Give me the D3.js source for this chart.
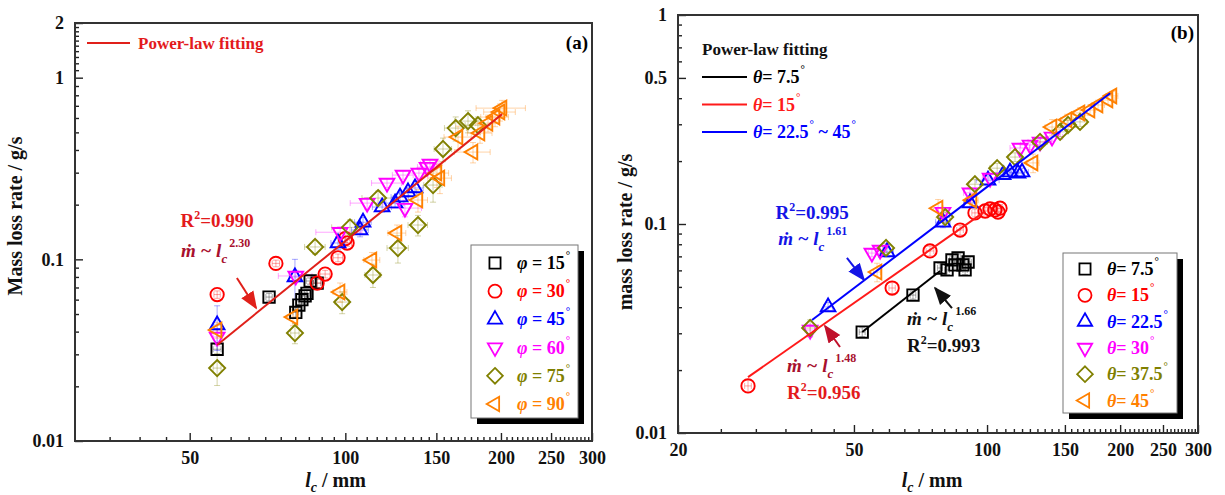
<!DOCTYPE html>
<html>
<head>
<meta charset="utf-8">
<script src="https://cdn.jsdelivr.net/npm/d3@7"></script>
<style>
  body { margin: 0; background: #fff; }
  svg { font-family: "Times New Roman", "Liberation Serif", serif; font-weight: bold; }
</style>
</head>
<body>
<svg id="chart" width="1225" height="495"></svg>
<script>
// each point: [lc (mm), mass loss rate (g/s), x error, y error]
// panel (a), inclination phi
const phi15 = [[56.5,0.032,1,0.002],[71.2,0.062,1,0.003],[80.2,0.051,1,0.003],[81.3,0.056,1,0.003],[82.4,0.060,1,0.003],[83.6,0.063,1,0.003],[84.3,0.065,1,0.003],[85.5,0.076,1.5,0.003],[88.2,0.074,1.5,0.004]];
const phi30 = [[56.5,0.064,0.8,0.003],[73.4,0.095,1.2,0.004],[88.2,0.074,1.5,0.004],[91.4,0.083,2,0.004],[96.8,0.102,2,0.005],[100.0,0.130,2,0.006],[100.8,0.123,2,0.005]];
const phi45 = [[56.5,0.0435,1,0.012],[79.9,0.080,2,0.02],[96.8,0.123,3,0.01],[106.8,0.145,4,0.012],[108.2,0.160,4,0.01],[117.8,0.194,5,0.012],[124.8,0.204,5,0.012],[127.6,0.220,5,0.012],[132.2,0.235,5,0.012],[136.4,0.247,5,0.012]];
const phi60 = [[56.5,0.0374,1,0.004],[80.2,0.081,6,0.006],[97.7,0.141,10,0.01],[110.2,0.204,8,0.015],[120.4,0.263,8,0.015],[130.4,0.1915,10,0.02],[129.3,0.291,6,0.015],[138.8,0.2985,6,0.02],[143.9,0.322,6,0.02],[145.8,0.335,6,0.02]];
const phi75 = [[56.5,0.0252,1,0.005],[79.9,0.0393,1.5,0.005],[87.4,0.117,4,0.01],[98.6,0.0582,3,0.008],[102.1,0.150,8,0.015],[113.1,0.082,4,0.012],[115.7,0.2175,8,0.02],[126.4,0.1154,6,0.02],[138.2,0.1545,6,0.02],[147.8,0.2564,6,0.05],[154.5,0.405,6,0.06],[163.5,0.528,8,0.08],[172.7,0.577,10,0.08],[180.5,0.548,10,0.06]];
const phi90 = [[56.5,0.0408,1,0.004],[79.2,0.0481,2,0.005],[97.7,0.0661,3,0.008],[112.6,0.0991,4,0.01],[125.9,0.1395,5,0.015],[138.2,0.212,6,0.03],[150.4,0.2985,8,0.05],[152.4,0.28,8,0.05],[165.2,0.471,10,0.07],[176.6,0.3895,14,0.05],[182.2,0.4955,10,0.06],[188.8,0.562,10,0.06],[194.8,0.607,12,0.07],[199.2,0.647,14,0.07],[201,0.68,22,0.07]];
const phiLabels = ["15", "30", "45", "60", "75", "90"];

// panel (b), inclination theta
const theta7_5 = [[52.2,0.0304,0.8,0.0015],[68.0,0.0457,1,0.002],[78.3,0.0616,1,0.003],[81.2,0.0603,1,0.003],[83.3,0.0673,1,0.003],[84.6,0.0637,1,0.003],[86.0,0.0688,1,0.003],[88.2,0.0637,1,0.003],[89.2,0.0603,1,0.003],[90.6,0.0658,1.5,0.003]];
const theta15 = [[28.8,0.0168,0.5,0.0012],[61.0,0.0494,1,0.003],[74.3,0.0743,1.5,0.004],[86.9,0.0936,1.5,0.005],[93.9,0.113,1.5,0.005],[99.0,0.1154,1.5,0.005],[101.6,0.118,1.5,0.005],[104.2,0.1167,1.5,0.005],[105.9,0.1141,1.5,0.005],[107.0,0.119,1.5,0.005]];
const theta22_5 = [[43.7,0.0401,1,0.002],[59.4,0.0735,2,0.004],[79.5,0.102,3,0.006],[91.5,0.126,3,0.006],[100.5,0.162,6,0.008],[108.7,0.172,4,0.008],[112.7,0.177,4,0.008],[117.5,0.175,4,0.008],[120.0,0.177,4,0.008]];
const theta30 = [[39.8,0.0311,1,0.002],[54.9,0.0726,1,0.003],[57.3,0.0751,1,0.003],[79.5,0.114,2,0.006],[91.5,0.141,3,0.008],[101.6,0.166,4,0.008],[118.7,0.231,6,0.012],[125.1,0.239,6,0.012],[131.8,0.247,8,0.012],[140.3,0.261,8,0.012]];
const theta37_5 = [[39.8,0.0318,1,0.003],[59.1,0.0768,1,0.004],[80.4,0.108,2,0.006],[93.9,0.155,3,0.008],[105.4,0.185,4,0.01],[115.7,0.209,4,0.01],[131.8,0.247,5,0.012],[146.3,0.276,6,0.014],[152.5,0.298,6,0.015],[162.3,0.308,6,0.015]];
const theta45 = [[56.4,0.0589,1,0.006],[77.5,0.119,2,0.012],[92.5,0.130,3,0.01],[127.1,0.196,4,0.02],[140.3,0.291,5,0.025],[151.7,0.315,5,0.02],[162.3,0.340,5,0.02],[171.0,0.351,5,0.02],[178.3,0.371,6,0.02],[187.8,0.392,6,0.02],[191.7,0.410,6,0.02]];
const thetaLabels = ["7.5", "15", "22.5", "30", "37.5", "45"];

// power-law fits, end points [lc, rate]
const fitA = [[56.5,0.0338],[201,0.63]];
const fitB7_5 = [[52.2,0.0304],[78.3,0.0596]];
const fitB15 = [[28.8,0.0185],[99,0.115]];
const fitB22_5 = [[40.2,0.0347],[189.8,0.422]];

const xTicksA = [50, 100, 150, 200, 250, 300];
const yTicksA = [0.01, 0.1, 1, 2];
const xTicksB = [20, 50, 100, 150, 200, 250, 300];
const yTicksB = [0.01, 0.1, 0.5, 1];

const colors = ["#000000", "#ff0000", "#0000ff", "#ff00ff", "#808000", "#ff8000"];
const shapes = [
    { type: d3.symbolSquare, size: 130, rot: 0 },
    { type: d3.symbolCircle, size: 140, rot: 0 },
    { type: d3.symbolTriangle2, size: 155, rot: 0 },
    { type: d3.symbolTriangle2, size: 155, rot: 180 },
    { type: d3.symbolDiamond2, size: 165, rot: 0 },
    { type: d3.symbolTriangle2, size: 155, rot: -90 }
];

class LogPanel {
    constructor(svg, o) {
        this.o = o;
        this.g = svg.append("g");
        this.x = d3.scaleLog().domain(o.xDomain).range([o.left, o.right]);
        this.y = d3.scaleLog().domain(o.yDomain).range([o.bottom, o.top]);
    }

    styleAxis(sel) {
        sel.select(".domain").remove();
        sel.selectAll("line").attr("stroke", "#222").attr("stroke-width", 1.4);
        sel.selectAll("text")
            .attr("font-family", "'Times New Roman', 'Liberation Serif', serif")
            .attr("font-size", 18).attr("font-weight", "bold").attr("fill", "#111");
    }

    drawAxes(xMinor, yMinor) {
        const o = this.o;
        // minor ticks first, then majors with labels
        this.g.append("g").attr("transform", `translate(0,${o.bottom})`)
            .call(d3.axisBottom(this.x).tickValues(xMinor).tickSize(-4).tickFormat(""))
            .call(s => this.styleAxis(s));
        this.g.append("g").attr("transform", `translate(${o.left},0)`)
            .call(d3.axisLeft(this.y).tickValues(yMinor).tickSize(-4).tickFormat(""))
            .call(s => this.styleAxis(s));
        this.g.append("g").attr("transform", `translate(0,${o.bottom})`)
            .call(d3.axisBottom(this.x).tickValues(o.xTicks).tickSize(-8).tickPadding(10).tickFormat(d => d))
            .call(s => this.styleAxis(s));
        this.g.append("g").attr("transform", `translate(${o.left},0)`)
            .call(d3.axisLeft(this.y).tickValues(o.yTicks).tickSize(-8).tickPadding(11).tickFormat(d => d))
            .call(s => this.styleAxis(s));

        this.g.append("rect")
            .attr("x", o.left).attr("y", o.top)
            .attr("width", o.right - o.left).attr("height", o.bottom - o.top)
            .attr("fill", "none").attr("stroke", "#333").attr("stroke-width", 2);

        this.g.append("text").attr("x", o.right - 4).attr("y", o.top + o.tagDy)
            .attr("text-anchor", "end").attr("font-size", 19).text(o.tag);

        const xt = this.g.append("text").attr("x", (o.left + o.right) / 2 + o.xTitleDx).attr("y", 487)
            .attr("text-anchor", "middle").attr("font-size", 20).attr("fill", "#111");
        xt.append("tspan").attr("font-style", "italic").text("l");
        xt.append("tspan").attr("font-style", "italic").attr("font-size", 14).attr("dy", 5).text("c");
        xt.append("tspan").attr("dy", -5).text(" / mm");

        this.g.append("text")
            .attr("transform", `translate(${o.yTitleX},${o.yTitleY}) rotate(-90)`)
            .attr("text-anchor", "middle").attr("font-size", 20).attr("fill", "#111")
            .text(o.yTitle);
    }

    drawSeries(list) {
        const x = this.x, y = this.y, cap = 3;
        list.forEach((data, i) => {
            const c = colors[i];
            const eb = this.g.append("g").attr("stroke", c).attr("stroke-opacity", 0.35).attr("stroke-width", 1);
            data.forEach(d => {
                const px = x(d[0]), py = y(d[1]);
                const y0 = y(d[1] - d[3]), y1 = y(d[1] + d[3]);
                const x0 = x(d[0] - d[2]), x1 = x(d[0] + d[2]);
                eb.append("line").attr("x1", px).attr("x2", px).attr("y1", y0).attr("y2", y1);
                eb.append("line").attr("x1", px - cap).attr("x2", px + cap).attr("y1", y0).attr("y2", y0);
                eb.append("line").attr("x1", px - cap).attr("x2", px + cap).attr("y1", y1).attr("y2", y1);
                eb.append("line").attr("x1", x0).attr("x2", x1).attr("y1", py).attr("y2", py);
                eb.append("line").attr("x1", x0).attr("x2", x0).attr("y1", py - cap).attr("y2", py + cap);
                eb.append("line").attr("x1", x1).attr("x2", x1).attr("y1", py - cap).attr("y2", py + cap);
            });
        });
        list.forEach((data, i) => {
            const s = shapes[i];
            this.g.append("g").selectAll("path")
                .data(data)
                .enter().append("path")
                    .attr("d", d3.symbol().type(s.type).size(s.size))
                    .attr("transform", d => `translate(${x(d[0])},${y(d[1])}) rotate(${s.rot})`)
                    .attr("fill", "none").attr("stroke", colors[i]).attr("stroke-width", 1.9);
        });
    }

    drawFits(fits) {
        const line = d3.line().x(d => this.x(d[0])).y(d => this.y(d[1]));
        fits.forEach(f => {
            this.g.append("path").datum(f.data).attr("d", line)
                .attr("fill", "none").attr("stroke", f.color).attr("stroke-width", 2);
        });
    }

    arrow(from, to, color) {
        const id = "ah" + Math.random().toString(36).slice(2, 8);
        this.g.append("defs").append("marker").attr("id", id)
            .attr("viewBox", "0 0 10 10").attr("refX", 9).attr("refY", 5)
            .attr("markerWidth", 9).attr("markerHeight", 9).attr("orient", "auto")
            .append("path").attr("d", "M0,1 L10,5 L0,9 Z").attr("fill", color);
        this.g.append("line")
            .attr("x1", this.x(from[0])).attr("y1", this.y(from[1]))
            .attr("x2", this.x(to[0])).attr("y2", this.y(to[1]))
            .attr("stroke", color).attr("stroke-width", 2).attr("marker-end", `url(#${id})`);
    }

    rsq(at, value, color, anchor) {
        const t = this.g.append("text").attr("x", this.x(at[0])).attr("y", this.y(at[1]))
            .attr("text-anchor", anchor || "start").attr("font-size", 19).attr("fill", color);
        t.append("tspan").text("R");
        t.append("tspan").attr("font-size", 12).attr("dy", -8).text("2");
        t.append("tspan").attr("dy", 8).text("=" + value);
    }

    formula(at, exp, color) {
        const t = this.g.append("text").attr("x", this.x(at[0])).attr("y", this.y(at[1]))
            .attr("font-size", 19).attr("fill", color);
        t.append("tspan").attr("font-style", "italic").text("ṁ ~ l");
        t.append("tspan").attr("font-style", "italic").attr("font-size", 13).attr("dy", 6).text("c");
        t.append("tspan").attr("font-size", 12).attr("dx", 2).attr("dy", -16).text(exp);
    }

    legend(box, labels, symbol) {
        const g = this.g.append("g");
        g.append("rect").attr("x", box.x + 6).attr("y", box.y + 6)
            .attr("width", box.w).attr("height", box.h).attr("fill", "#000");
        g.append("rect").attr("x", box.x).attr("y", box.y)
            .attr("width", box.w).attr("height", box.h)
            .attr("fill", "#fff").attr("stroke", "#777").attr("stroke-width", 1);
        labels.forEach((lab, i) => {
            const cy = box.y + box.first + i * box.step;
            const s = shapes[i];
            g.append("path").attr("d", d3.symbol().type(s.type).size(s.size * 0.95))
                .attr("transform", `translate(${box.x + box.symX},${cy}) rotate(${s.rot})`)
                .attr("fill", "none").attr("stroke", colors[i]).attr("stroke-width", 1.8);
            const t = g.append("text").attr("x", box.x + box.textX).attr("y", cy + 6)
                .attr("font-size", 18).attr("fill", colors[i]);
            t.append("tspan").attr("font-style", "italic").text(symbol);
            t.append("tspan").text(box.eq + lab);
            t.append("tspan").attr("font-size", 11).attr("dy", -10).attr("dx", 1).text("°");
        });
    }
}

function logMinor(decades, extra, skip) {
    let ticks = [];
    decades.forEach(d => d3.range(2, 10).forEach(m => ticks.push(m * d)));
    ticks = ticks.concat(extra);
    return ticks.filter(t => !skip.some(s => Math.abs(s - t) < 1e-9));
}

function stepMinor(lo, hi, step, skip) {
    return d3.range(lo + step, hi, step).filter(t => !skip.includes(Math.round(t)));
}

const svg = d3.select("#chart");

// ---- panel (a)
const pa = new LogPanel(svg, {
    left: 75, right: 592, top: 23, bottom: 441,
    xDomain: [30, 300], yDomain: [0.01, 2],
    xTicks: xTicksA, yTicks: yTicksA,
    tag: "(a)", tagDy: 26, xTitleDx: 2, yTitleX: 22, yTitleY: 216,
    yTitle: "Mass loss rate / g/s"
});
pa.drawAxes(stepMinor(30, 300, 5, xTicksA),
    logMinor([0.01, 0.1], d3.range(1.1, 1.95, 0.1), yTicksA));
pa.drawSeries([phi15, phi30, phi45, phi60, phi75, phi90]);
pa.drawFits([{ data: fitA, color: "#e0201a" }]);
pa.rsq([56.5, 0.151], "0.990", "#e31a1c", "middle");
pa.formula([48.1, 0.103], "2.30", "#a8102e");
pa.arrow([61.7, 0.0789], [67.2, 0.054], "#e0201a");
pa.g.append("line").attr("x1", 87).attr("x2", 130).attr("y1", 43).attr("y2", 43)
    .attr("stroke", "#e0201a").attr("stroke-width", 2);
pa.g.append("text").attr("x", 138).attr("y", 49).attr("font-size", 17)
    .attr("fill", "#e31a1c").text("Power-law fitting");
pa.legend({ x: 471, y: 245, w: 107, h: 173, first: 18, step: 28.2, symX: 24, textX: 46, eq: " = " },
    phiLabels, "φ");

// ---- panel (b)
const pb = new LogPanel(svg, {
    left: 678, right: 1198, top: 15, bottom: 433,
    xDomain: [20, 300], yDomain: [0.01, 1],
    xTicks: xTicksB, yTicks: yTicksB,
    tag: "(b)", tagDy: 24, xTitleDx: -6, yTitleX: 632, yTitleY: 232,
    yTitle: "mass loss rate / g/s"
});
pb.drawAxes(stepMinor(20, 300, 5, xTicksB), logMinor([0.01, 0.1], [], yTicksB));
pb.drawSeries([theta7_5, theta15, theta22_5, theta30, theta37_5, theta45]);
pb.drawFits([
    { data: fitB7_5, color: "#000000" },
    { data: fitB15, color: "#ff1a1a" },
    { data: fitB22_5, color: "#0000ff" }
]);
pb.rsq([40.2, 0.1056], "0.995", "#1414e6", "middle");
pb.formula([33.7, 0.0794], "1.61", "#1414e6");
pb.arrow([48.2, 0.0688], [52.7, 0.054], "#1414e6");
pb.formula([35.3, 0.0196], "1.48", "#a8102e");
pb.rsq([35.3, 0.01455], "0.956", "#e31a1c");
pb.arrow([46.5, 0.0258], [43.0, 0.0325], "#c0102a");
pb.formula([65.9, 0.0329], "1.66", "#111");
pb.rsq([65.9, 0.0244], "0.993", "#111");
pb.arrow([83.3, 0.0396], [76.3, 0.0494], "#111");

const lg = pb.g.append("g");
lg.append("text").attr("x", 702).attr("y", 55).attr("font-size", 17).attr("fill", "#111").text("Power-law fitting");
[["7.5", "#000000"], ["15", "#ff1a1a"], ["22.5", "#0000ff"]].forEach((r, i) => {
    const yy = 77 + i * 27.5;
    lg.append("line").attr("x1", 702).attr("x2", 747).attr("y1", yy).attr("y2", yy)
        .attr("stroke", r[1]).attr("stroke-width", 2);
    const t = lg.append("text").attr("x", 753).attr("y", yy + 6).attr("font-size", 18).attr("fill", r[1]);
    t.append("tspan").attr("font-style", "italic").text("θ");
    t.append("tspan").text("= " + r[0]);
    t.append("tspan").attr("font-size", 11).attr("dy", -10).attr("dx", 1).text("°");
    if (i === 2) {
        t.append("tspan").attr("dy", 10).text(" ~ 45");
        t.append("tspan").attr("font-size", 11).attr("dy", -10).attr("dx", 1).text("°");
    }
});
pb.legend({ x: 1063, y: 253, w: 114, h: 160, first: 16, step: 26.3, symX: 22, textX: 44, eq: "= " },
    thetaLabels, "θ");
</script>
</body>
</html>
